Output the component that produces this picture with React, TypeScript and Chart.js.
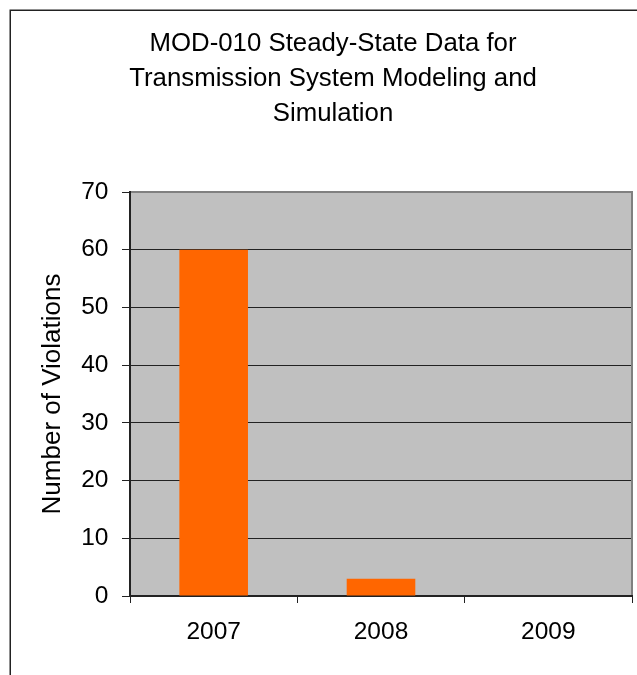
import React, { useEffect, useRef } from "react";
import { Chart, registerables } from "chart.js";

Chart.register(...registerables);

const categories: string[] = ["2007", "2008", "2009"];
const violations: number[] = [60, 3, 0];
const titleLines: string[] = [
  "MOD-010 Steady-State Data for",
  "Transmission System Modeling and",
  "Simulation",
];
const yAxisTitle = "Number of Violations";
const yMin = 0;
const yMax = 70;
const yStep = 10;

const FONT = "'Liberation Sans', Arial, sans-serif";

const framePlugin = {
  id: "framePlugin",
  beforeDraw(chart: any) {
    const { ctx, chartArea: a } = chart;
    ctx.save();
    ctx.fillStyle = "#ffffff";
    ctx.fillRect(0, 0, chart.width, chart.height);
    ctx.fillStyle = "#C0C0C0";
    ctx.fillRect(a.left, a.top, a.right - a.left, a.bottom - a.top);
    ctx.strokeStyle = "#222222";
    ctx.lineWidth = 1.5;
    ctx.beginPath();
    ctx.moveTo(10.25, chart.height);
    ctx.lineTo(10.25, 10.25);
    ctx.lineTo(chart.width, 10.25);
    ctx.stroke();
    ctx.restore();
  },
  afterDatasetsDraw(chart: any) {
    const { ctx, chartArea: a } = chart;
    ctx.save();
    ctx.strokeStyle = "#808080";
    ctx.lineWidth = 2;
    ctx.beginPath();
    ctx.moveTo(a.left + 1, a.top);
    ctx.lineTo(a.right, a.top);
    ctx.lineTo(a.right, a.bottom - 1);
    ctx.stroke();
    ctx.restore();
  },
};

export default function App() {
  const canvasRef = useRef<HTMLCanvasElement | null>(null);

  useEffect(() => {
    if (!canvasRef.current) return;
    const chart = new Chart(canvasRef.current, {
      type: "bar",
      data: {
        labels: categories,
        datasets: [
          {
            data: violations,
            backgroundColor: "#FF6600",
            borderWidth: 0,
            barPercentage: 0.41,
            categoryPercentage: 1.0,
          },
        ],
      },
      options: {
        responsive: false,
        animation: false,
        devicePixelRatio: 1,
        layout: { padding: { left: 34, right: 5, top: 0, bottom: 0 } },
        plugins: {
          legend: { display: false },
          tooltip: { enabled: false },
          title: {
            display: true,
            text: titleLines,
            color: "#000000",
            font: { family: FONT, size: 25.8, weight: "normal", lineHeight: 35 / 25.8 },
            padding: { top: 26.7, bottom: 60.3 },
          },
        },
        scales: {
          x: {
            type: "category",
            grid: {
              display: true,
              drawOnChartArea: false,
              drawTicks: true,
              tickLength: 7,
              color: "#222222",
              offset: true,
            },
            border: { display: true, color: "#222222", width: 2 },
            ticks: {
              color: "#000000",
              font: { family: FONT, size: 24.5, lineHeight: 1 },
              padding: 17,
              maxRotation: 0,
            },
            afterFit(scale: any) {
              scale.height = 79;
            },
          },
          y: {
            min: yMin,
            max: yMax,
            grid: {
              display: true,
              drawOnChartArea: true,
              drawTicks: true,
              tickLength: 8,
              color: "#222222",
              tickColor: "#222222",
              lineWidth: 1,
            },
            border: { display: true, color: "#222222", width: 2 },
            ticks: {
              stepSize: yStep,
              color: "#000000",
              font: { family: FONT, size: 24.5, lineHeight: 1 },
              padding: 13.5,
            },
            title: {
              display: true,
              text: yAxisTitle,
              color: "#000000",
              font: { family: FONT, size: 26, lineHeight: 1 },
              padding: { top: 6, bottom: 0 },
            },
            afterFit(scale: any) {
              scale.width = 96;
            },
          },
        },
      },
      plugins: [framePlugin],
    } as any);
    return () => chart.destroy();
  }, []);

  return (
    <div style={{ position: "absolute", left: 0, top: 0, width: 637, height: 675, background: "#fff" }}>
      <canvas ref={canvasRef} width={637} height={675} style={{ display: "block", width: 637, height: 675 }} />
    </div>
  );
}
